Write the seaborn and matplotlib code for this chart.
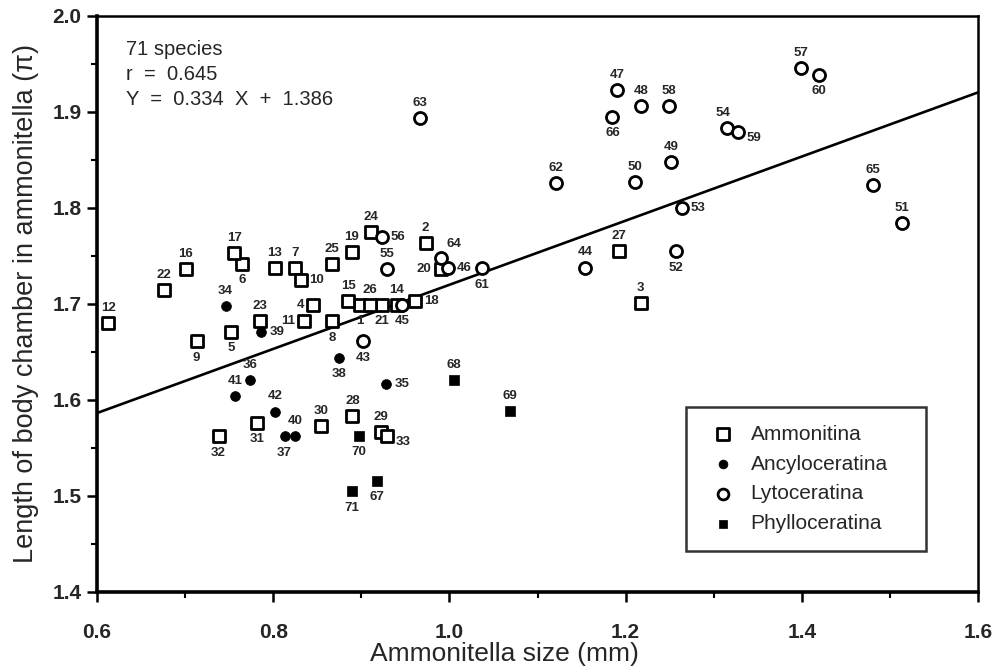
import numpy as np
import pandas as pd
import matplotlib
matplotlib.use("Agg")
import matplotlib.pyplot as plt
import seaborn as sns

# ---------------- data ----------------
amm_id = list(range(1, 34))
amm_x = [0.898, 0.973, 1.217, 0.845, 0.752, 0.765, 0.825, 0.867, 0.713, 0.831,
         0.835, 0.613, 0.802, 0.940, 0.885, 0.701, 0.756, 0.961, 0.889, 0.990,
         0.923, 0.676, 0.785, 0.911, 0.867, 0.910, 1.192, 0.890, 0.922, 0.854,
         0.782, 0.738, 0.929]
amm_y = [1.699, 1.764, 1.701, 1.699, 1.671, 1.742, 1.737, 1.682, 1.661, 1.725,
         1.682, 1.680, 1.737, 1.699, 1.703, 1.736, 1.753, 1.703, 1.754, 1.736,
         1.699, 1.715, 1.682, 1.775, 1.742, 1.699, 1.755, 1.583, 1.567, 1.573,
         1.576, 1.562, 1.562]

anc_id = list(range(34, 43))
anc_x = [0.746, 0.928, 0.774, 0.813, 0.875, 0.786, 0.825, 0.757, 0.802]
anc_y = [1.698, 1.617, 1.621, 1.562, 1.644, 1.671, 1.562, 1.604, 1.588]

lyt_id = list(range(43, 67))
lyt_x = [0.902, 1.154, 0.946, 0.998, 1.190, 1.218, 1.252, 1.211, 1.514, 1.257,
         1.264, 1.315, 0.929, 0.923, 1.399, 1.249, 1.328, 1.419, 1.037, 1.121,
         0.967, 0.990, 1.481, 1.185]
lyt_y = [1.661, 1.738, 1.699, 1.737, 1.923, 1.906, 1.848, 1.827, 1.784, 1.755,
         1.800, 1.883, 1.736, 1.770, 1.946, 1.906, 1.879, 1.939, 1.737, 1.826,
         1.894, 1.748, 1.824, 1.895]

phy_id = list(range(67, 72))
phy_x = [0.918, 1.005, 1.069, 0.897, 0.889]
phy_y = [1.516, 1.621, 1.589, 1.563, 1.505]

groups = ["Ammonitina", "Ancyloceratina", "Lytoceratina", "Phylloceratina"]
n_species = 71
r_value = 0.645
slope, intercept = 0.334, 1.386
x_ticks = [0.6, 0.8, 1.0, 1.2, 1.4, 1.6]
y_ticks = [1.4, 1.5, 1.6, 1.7, 1.8, 1.9, 2.0]

# label placement (layout only)
label_pos = {
    1: "s", 2: "n", 3: "n", 4: "w", 5: "s", 6: "s", 7: "n", 8: "s", 9: "s", 10: "e",
    11: "w", 12: "n", 13: "n", 14: "n", 15: "n", 16: "n", 17: "n", 18: "e", 19: "n",
    20: "w", 21: "s", 22: "n", 23: "n", 24: "n", 25: "n", 26: "n", 27: "n", 28: "n",
    29: "n", 30: "n", 31: "s", 32: "s", 33: "se", 34: "n", 35: "e", 36: "n", 37: "s",
    38: "s", 39: "e", 40: "n", 41: "n", 42: "n", 43: "s", 44: "n", 45: "s", 46: "e",
    47: "n", 48: "n", 49: "n", 50: "n", 51: "n", 52: "s", 53: "e", 54: "nw", 55: "n",
    56: "e", 57: "n", 58: "n", 59: "se", 60: "s", 61: "s", 62: "n", 63: "n", 64: "ne",
    65: "n", 66: "s", 67: "s", 68: "n", 69: "n", 70: "s", 71: "s",
}

df = pd.concat([
    pd.DataFrame({"id": amm_id, "x": amm_x, "y": amm_y, "group": groups[0]}),
    pd.DataFrame({"id": anc_id, "x": anc_x, "y": anc_y, "group": groups[1]}),
    pd.DataFrame({"id": lyt_id, "x": lyt_x, "y": lyt_y, "group": groups[2]}),
    pd.DataFrame({"id": phy_id, "x": phy_x, "y": phy_y, "group": groups[3]}),
], ignore_index=True)

# ---------------- style ----------------
sns.set_theme(style="white")
plt.rcParams["font.family"] = ["Liberation Sans", "DejaVu Sans"]

fig = plt.figure(figsize=(10.06, 6.69), dpi=100)
ax = fig.add_axes([0.0964, 0.1151, 0.8758, 0.8610])

styles = {
    "Ammonitina": dict(marker="s", s=85, facecolor="white", edgecolor="black", linewidth=2.0),
    "Ancyloceratina": dict(marker="o", s=50, facecolor="black", edgecolor="black", linewidth=0.5),
    "Lytoceratina": dict(marker="o", s=75, facecolor="white", edgecolor="black", linewidth=2.0),
    "Phylloceratina": dict(marker="s", s=42, facecolor="black", edgecolor="black", linewidth=0.5),
}
for g in groups:
    st = styles[g]
    sub = df[df["group"] == g]
    sns.scatterplot(data=sub, x="x", y="y", ax=ax, marker=st["marker"], s=st["s"],
                    color=st["facecolor"], edgecolor=st["edgecolor"],
                    linewidth=st["linewidth"], label=g, zorder=3)

# regression line
line_x = np.array([x_ticks[0], x_ticks[-1]])
sns.lineplot(x=line_x, y=slope * line_x + intercept, ax=ax, color="black",
             linewidth=1.9, zorder=2, legend=False)

# point labels
offs = {"n": (0, 6.5, "center", "bottom"), "s": (0, -7.5, "center", "top"),
        "e": (6.5, 0, "left", "center"), "w": (-6.5, 0, "right", "center"),
        "se": (6, -4, "left", "center"), "ne": (4, 6, "left", "bottom"),
        "nw": (-3, 6.5, "center", "bottom")}
for _, row in df.iterrows():
    dx, dy, ha, va = offs[label_pos[int(row["id"])]]
    ax.annotate(str(int(row["id"])), (row["x"], row["y"]), xytext=(dx, dy),
                textcoords="offset points", ha=ha, va=va, fontsize=9.5,
                fontweight="bold", zorder=4)

ax.set_xlim(x_ticks[0], x_ticks[-1])
ax.set_ylim(y_ticks[0], y_ticks[-1])
ax.set_xticks(x_ticks)
ax.set_yticks(y_ticks)
ax.set_xticklabels([f"{v:.1f}" for v in x_ticks], fontsize=15, fontweight="bold")
ax.set_yticklabels([f"{v:.1f}" for v in y_ticks], fontsize=15, fontweight="bold")
ax.set_xticks(np.arange(0.7, 1.6, 0.2), minor=True)
ax.set_yticks(np.arange(1.45, 2.0, 0.1), minor=True)
ax.tick_params(which="major", direction="out", length=7, width=1.8, color="black",
               bottom=True, left=True)
ax.tick_params(which="minor", direction="out", length=4, width=1.5, color="black",
               bottom=True, left=True)
ax.tick_params(axis="x", which="major", pad=15)
ax.tick_params(axis="y", which="major", pad=4)

for side in ["left", "bottom"]:
    ax.spines[side].set_linewidth(2.6)
for side in ["top", "right"]:
    ax.spines[side].set_linewidth(1.8)
for sp in ax.spines.values():
    sp.set_color("black")

ax.set_xlabel("Ammonitella size (mm)", fontsize=19)
ax.xaxis.set_label_coords(0.462, -0.087)
ax.set_ylabel("Length of body chamber in ammonitella (\u03c0)", fontsize=19.5, labelpad=10)

ax.text(0.033, 0.958,
        f"{n_species} species\nr  =  {r_value:.3f}\nY  =  {slope:.3f}  X  +  {intercept:.3f}",
        transform=ax.transAxes, ha="left", va="top", fontsize=14.5, linespacing=1.38)

leg_w = 0.2724
leg_h = 0.25
leg = ax.legend(loc="upper left", bbox_to_anchor=(0.6686, 0.321 - leg_h, leg_w, leg_h),
                mode="expand", frameon=True, fontsize=15, borderpad=0.85,
                labelspacing=0.52, handlelength=1.8, handletextpad=0.45,
                borderaxespad=0, fancybox=False, markerscale=0.9)
leg.get_frame().set_edgecolor("black")
leg.get_frame().set_linewidth(1.8)

fig.savefig("out.png", dpi=100)
